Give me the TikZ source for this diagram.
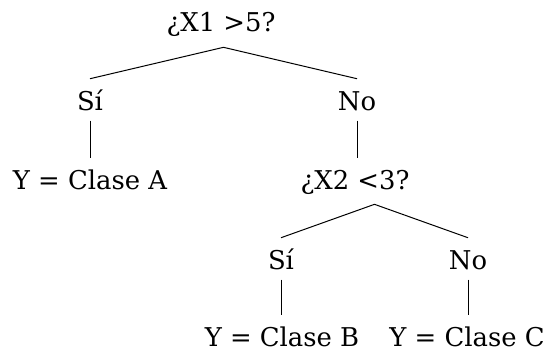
\documentclass[tikz,border=0pt]{standalone}
\usepackage{fontspec}
\setmainfont{DejaVu Serif}
\usepackage{tikz}
\usetikzlibrary{calc}

\tikzset{
  lbl/.style={font=\fontsize{19.4}{22}\selectfont, anchor=base, inner xsep=0pt, inner ysep=7.5pt, text height=15.75pt},
  branch/.style={line width=0.75pt}
}

\begin{document}
\begin{tikzpicture}[x=0.75pt, y=-0.75pt]
  \useasboundingbox (0,0) rectangle (549,353);

  \node[lbl] (q1) at (221,32) {¿X1 >5?};
  \node[lbl] (si1) at (90,110) {Sí};
  \node[lbl] (no1) at (357,110) {No};
  \node[lbl] (ca) at (90,189) {Y = Clase A};
  \node[lbl] (q2) at (355,189) {¿X2 <3?};
  \node[lbl] (si2) at (281,269) {Sí};
  \node[lbl] (no2) at (468,269) {No};
  \node[lbl] (cb) at (282,346) {Y = Clase B};
  \node[lbl] (cc) at (467,346) {Y = Clase C};

  % apex of each split
  \coordinate (m1) at ($(si1.north)!0.5!(no1.north)$);
  \coordinate (q1top) at (m1 |- q1.south);
  \coordinate (m2) at ($(si2.north)!0.5!(no2.north)$);
  \coordinate (q2top) at (m2 |- q2.south);

  \draw[branch] (si1.north) -- (q1top) -- (no1.north);
  \draw[branch] (si1.south) -- (si1.south |- ca.north);
  \draw[branch] (no1.south) -- (no1.south |- q2.north);

  \draw[branch] (si2.north) -- (q2top) -- (no2.north);
  \draw[branch] (si2.south) -- (si2.south |- cb.north);
  \draw[branch] (no2.south) -- (no2.south |- cc.north);
\end{tikzpicture}
\end{document}
